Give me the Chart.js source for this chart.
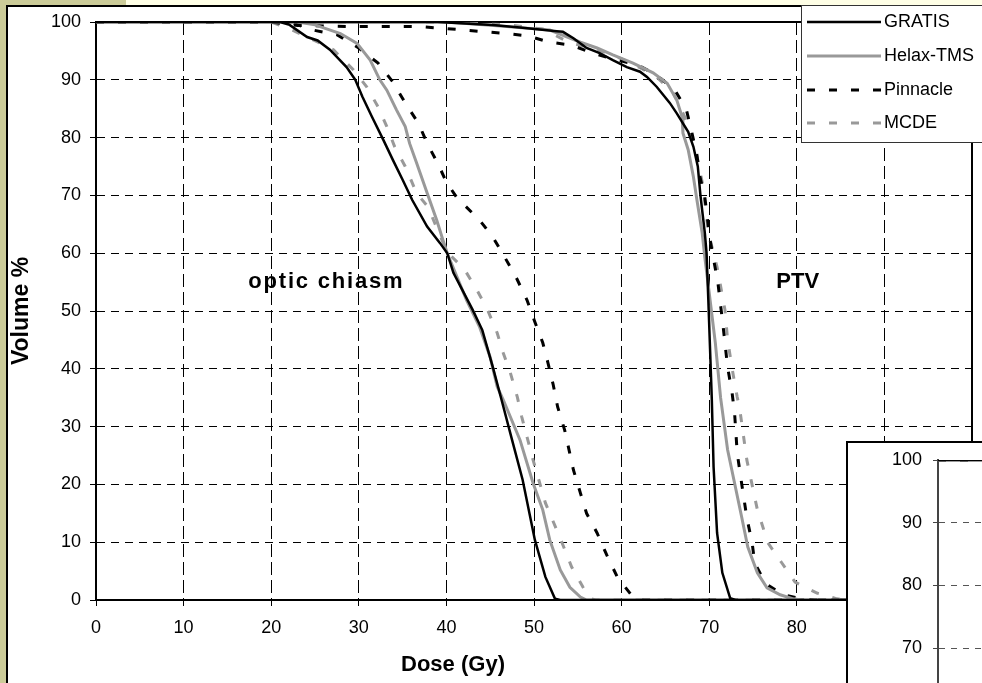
<!DOCTYPE html>
<html>
<head>
<meta charset="utf-8">
<script src="https://cdn.jsdelivr.net/npm/chart.js@4.4.1/dist/chart.umd.min.js"></script>
<style>
  html, body { margin: 0; padding: 0; width: 982px; height: 683px; overflow: hidden; background: #fff; }
  #wrap { position: relative; width: 982px; height: 683px; overflow: hidden; }
  #main { position: absolute; left: 0; top: 0; }
  #inset { position: absolute; left: 846px; top: 441px; }
</style>
</head>
<body>
<div id="wrap">
  <canvas id="main" width="982" height="683"></canvas>
  <canvas id="inset" width="700" height="686"></canvas>
</div>
<script>
const FONT = "'Liberation Sans', Arial, sans-serif";

// DVH curves, [dose Gy, volume %]
const gratisChiasm = [[0,100],[21,100],[22.1,99.5],[24.1,97.4],[25.3,96.8],[26.7,95.2],[28.6,92.2],[29.6,90],[30.4,87.1],[31.5,83.6],[32.8,79.6],[33.9,76.1],[35,72.7],[36.1,69.2],[37.8,64.6],[39.3,61.7],[40.1,60],[40.8,56.6],[43,50.2],[44.1,46.7],[45.3,40.3],[46.3,34.6],[47.6,27.1],[48.7,20.8],[50.1,10.4],[51.3,4],[52.4,0.2],[53,0],[100,0]];
const helaxChiasm = [[0,100],[23,100],[25,99.5],[27.9,98],[29.8,96.3],[31.3,93.4],[32.4,90],[33.2,88.2],[34.3,84.8],[35.3,81.9],[35.8,79],[36.6,75.6],[37.8,70.4],[38.9,65.7],[39.6,62.3],[40.1,60],[42.3,51.9],[43.8,47.2],[45,42],[45.8,36.9],[46.5,34.6],[48.4,27.7],[49.9,20.2],[51,15.6],[51.8,10.4],[53,5.2],[54.1,2.2],[55.3,0.5],[56,0],[100,0]];
const pinnacleChiasm = [[0,100],[22,100],[24.8,98.6],[27.5,97.8],[29.8,95.7],[32.2,92.9],[33.9,89.6],[35.3,86],[36.8,82.5],[37.9,78.7],[39,75.6],[40,72.3],[41.2,69.6],[43.8,65.7],[45.3,62.8],[46.7,59.2],[48,55.7],[49.2,51.9],[50.1,48.1],[51,44.5],[51.6,41],[52.2,37.2],[52.7,33.4],[53.5,29.4],[54.5,22.5],[55.3,18.5],[56,15],[57.2,11.6],[58.3,7.8],[59.5,4],[61.3,0.5],[62.3,0],[100,0]];
const mcdeChiasm = [[0,100],[20,100],[22.4,98.6],[24.8,96.9],[27.1,95.2],[29.4,91.7],[30.9,88.8],[32.2,85.3],[33.2,81.9],[34.1,78.4],[35.3,75],[36.6,70.4],[37.9,68],[39,64],[40.1,60.2],[42.1,57.1],[43.5,53.6],[44.7,50.2],[45.8,46.2],[46.5,42.7],[47.3,39.3],[48.1,35.1],[48.6,31.7],[49.9,24.2],[51.3,16.8],[53.2,9.9],[54.3,5.7],[55.6,2.2],[56.4,0.3],[57,0],[100,0]];

const gratisPtv = [[0,100],[39,100],[45.3,99.5],[48.7,99],[52.6,98.4],[53.3,98.3],[54.5,97.2],[56,95.5],[57.5,94.6],[59,93.4],[60.6,92.2],[62.1,91.4],[62.9,90.5],[64,88.8],[65.5,86],[66.3,84.2],[67.6,81],[68.2,78.4],[68.7,75],[69,70],[69.5,63.5],[69.7,60],[69.9,51.9],[70.1,43.3],[70.3,34.6],[70.5,23],[70.9,11.6],[71.5,4.7],[72.4,0.3],[73,0],[100,0]];
const helaxPtv = [[0,100],[40,100],[46.9,99.2],[51.8,98.6],[55.3,96.5],[57.2,95.5],[59,94.3],[61.3,92.9],[63.6,91.2],[65.2,89.4],[66.3,86.5],[66.9,83.6],[67,80.8],[67.6,77.9],[68.2,73.2],[68.6,69.2],[69.2,63.5],[69.5,59.3],[70.1,51.9],[70.7,44.5],[71.3,35],[72.1,26],[72.9,20.2],[73.7,14.4],[74.4,9.2],[75.5,4.7],[76.6,2.1],[78.1,0.9],[79.6,0.2],[80.5,0],[100,0]];
const pinnaclePtv = [[0,100],[20,100],[23,99.4],[30,99.2],[37,99.2],[39.6,98.9],[42.1,98.6],[44.5,98.3],[46.9,98],[49.3,97.6],[51.8,96.5],[54.3,96],[56.7,94.6],[59,93.6],[61.8,92.6],[64,90.8],[66.1,88.2],[67.4,84.8],[68,81],[68.6,77],[68.9,73.5],[69.5,69.7],[70.1,62.3],[71,54.8],[71.6,47.2],[72.1,40.3],[72.6,36],[72.9,32.3],[73.2,25.4],[73.7,20.2],[74.3,14.2],[74.9,9.9],[75.2,6.4],[76.4,2.9],[78.4,0.9],[80.7,0.2],[82,0],[100,0]];
const mcdePtv = [[0,100],[40,100],[47,99.5],[51,98.8],[54.1,96.4],[56.7,95.5],[59,94.3],[61.5,92.6],[64,90.5],[65.9,87.7],[67.2,83.6],[68,80],[68.7,76.1],[69.3,71.5],[69.9,63.5],[70.9,57.6],[71.8,50.2],[72.1,45],[72.7,39.3],[73.2,35.1],[73.5,32.9],[74.3,24.2],[75.5,15.6],[76.7,9.9],[78.3,6.4],[79.8,3.1],[82.3,1.2],[84.6,0.2],[86,0],[100,0]];

const systems = ["GRATIS", "Helax-TMS", "Pinnacle", "MCDE"];
const chiasmCurves = [gratisChiasm, helaxChiasm, pinnacleChiasm, mcdeChiasm];
const ptvCurves = [gratisPtv, helaxPtv, pinnaclePtv, mcdePtv];
const colors = ["#000000", "#999999", "#000000", "#999999"];
const dashes = [[], [], [8, 14], [8, 14]];
const widths = [2.5, 3, 3, 3];

const axisTicks = { min: 0, max: 100, step: 10 };
const regionLabels = [
  { text: "optic chiasm", dose: 26.3, vol: 55, spacing: "1.8px" },
  { text: "PTV", dose: 80.1, vol: 55, spacing: "0px" },
];

const toPoints = (arr) => arr.map(([x, y]) => ({ x, y }));

const buildDatasets = () =>
  systems.map((label, i) => ({
    label,
    data: [...toPoints(chiasmCurves[i]), { x: 100, y: null }, ...toPoints(ptvCurves[i])],
    borderColor: colors[i],
    borderWidth: widths[i],
    borderDash: dashes[i],
    pointRadius: 0,
    tension: 0,
    fill: false,
    spanGaps: false,
  }));

const framePlugin = {
  id: "frame",
  beforeDraw(chart) {
    const { ctx, width, height } = chart;
    ctx.save();
    ctx.fillStyle = "#CCCC99";
    ctx.fillRect(0, 0, width, height);
    ctx.fillStyle = "#FFFFE6";
    ctx.fillRect(126, 0, width - 126, 5);
    ctx.fillStyle = "#000";
    ctx.fillRect(6, 5, width - 6, height - 5);
    ctx.fillStyle = "#fff";
    ctx.fillRect(8, 7, width - 8, height - 7);
    ctx.restore();
  },
};

const plotBorder = {
  id: "plotBorder",
  beforeDatasetsDraw(chart) {
    const { ctx, chartArea: a } = chart;
    ctx.save();
    ctx.strokeStyle = "#000";
    ctx.lineWidth = 2;
    ctx.beginPath();
    ctx.moveTo(a.left, a.top);
    ctx.lineTo(a.right, a.top);
    ctx.lineTo(a.right, a.bottom);
    ctx.stroke();
    ctx.restore();
  },
};

const textPlugin = {
  id: "texts",
  afterDatasetsDraw(chart) {
    const { ctx, scales } = chart;
    ctx.save();
    ctx.fillStyle = "#000";
    ctx.textAlign = "center";
    ctx.textBaseline = "middle";
    ctx.font = `bold 22px ${FONT}`;
    ctx.fillText("Dose (Gy)", 453, 665);
    ctx.save();
    ctx.translate(22, 311);
    ctx.rotate(-Math.PI / 2);
    ctx.font = `bold 23px ${FONT}`;
    ctx.fillText("Volume %", 0, 0);
    ctx.restore();
    ctx.font = `bold 22px ${FONT}`;
    regionLabels.forEach(({ text, dose, vol, spacing }) => {
      ctx.letterSpacing = spacing;
      ctx.fillText(text, scales.x.getPixelForValue(dose), scales.y.getPixelForValue(vol));
    });
    ctx.letterSpacing = "0px";
    ctx.restore();
  },
};

const legendBox = {
  id: "legendBox",
  afterDraw(chart) {
    const { ctx } = chart;
    const rows = [22, 56, 90, 123];
    ctx.save();
    ctx.fillStyle = "#fff";
    ctx.fillRect(801, 5, 200, 138);
    ctx.strokeStyle = "#333";
    ctx.lineWidth = 1;
    ctx.strokeRect(801.5, 5.5, 200, 137);
    ctx.font = `18px ${FONT}`;
    ctx.textBaseline = "middle";
    chart.data.datasets.forEach((ds, i) => {
      ctx.strokeStyle = ds.borderColor;
      ctx.lineWidth = ds.borderWidth;
      ctx.setLineDash(ds.borderDash);
      ctx.beginPath();
      ctx.moveTo(807, rows[i]);
      ctx.lineTo(881, rows[i]);
      ctx.stroke();
      ctx.setLineDash([]);
      ctx.fillStyle = "#000";
      ctx.fillText(ds.label, 884, rows[i]);
    });
    ctx.restore();
  },
};

const mainChart = new Chart(document.getElementById("main").getContext("2d"), {
  type: "line",
  data: { datasets: buildDatasets() },
  options: {
    responsive: false,
    animation: false,
    layout: { padding: { top: 22, right: 10, left: 0, bottom: 0 } },
    plugins: { legend: { display: false }, tooltip: { enabled: false } },
    scales: {
      x: {
        type: "linear",
        min: axisTicks.min,
        max: axisTicks.max,
        ticks: { stepSize: axisTicks.step, color: "#000", font: { family: FONT, size: 18 }, padding: 11, maxRotation: 0 },
        grid: { color: "#000", lineWidth: 1, tickLength: 6, tickColor: "#000", tickWidth: 1 },
        border: { color: "#000", width: 2, dash: [13, 5] },
        afterFit: (s) => {
          s.height = 83;
          s.paddingLeft = 0;
          s.paddingRight = 0;
        },
      },
      y: {
        type: "linear",
        min: axisTicks.min,
        max: axisTicks.max,
        ticks: { stepSize: axisTicks.step, color: "#000", font: { family: FONT, size: 18 }, padding: 9 },
        grid: { color: "#000", lineWidth: 1, tickLength: 6, tickColor: "#000", tickWidth: 1 },
        border: { color: "#000", width: 2, dash: [8, 6] },
        afterFit: (s) => {
          s.width = 96;
          s.paddingTop = 0;
          s.paddingBottom = 0;
        },
      },
    },
  },
  plugins: [framePlugin, plotBorder, textPlugin, legendBox],
});

const insetFrame = {
  id: "insetFrame",
  beforeDraw(chart) {
    const { ctx, width, height } = chart;
    ctx.save();
    ctx.fillStyle = "#000";
    ctx.fillRect(0, 0, width, height);
    ctx.fillStyle = "#fff";
    ctx.fillRect(2, 2, width - 2, height - 2);
    ctx.restore();
  },
};

const insetChart = new Chart(document.getElementById("inset").getContext("2d"), {
  type: "line",
  data: { datasets: buildDatasets() },
  options: {
    responsive: false,
    animation: false,
    layout: { padding: { top: 19, right: 8, left: 0, bottom: 0 } },
    plugins: { legend: { display: false }, tooltip: { enabled: false } },
    scales: {
      x: {
        type: "linear",
        min: axisTicks.min,
        max: axisTicks.max,
        ticks: { stepSize: axisTicks.step, color: "#000", font: { family: FONT, size: 18 } },
        grid: { color: "#555", lineWidth: 1, tickLength: 5 },
        border: { color: "#444", width: 2, dash: [6, 6] },
        afterFit: (s) => {
          s.height = 40;
          s.paddingLeft = 0;
          s.paddingRight = 0;
        },
      },
      y: {
        type: "linear",
        min: axisTicks.min,
        max: axisTicks.max,
        ticks: { stepSize: axisTicks.step, color: "#000", font: { family: FONT, size: 18 }, padding: 11 },
        grid: { color: "#555", lineWidth: 1, tickLength: 5, tickColor: "#444", tickWidth: 1 },
        border: { color: "#444", width: 2, dash: [6, 6] },
        afterFit: (s) => {
          s.width = 92;
          s.paddingTop = 0;
          s.paddingBottom = 0;
        },
      },
    },
  },
  plugins: [insetFrame],
});
</script>
</body>
</html>
